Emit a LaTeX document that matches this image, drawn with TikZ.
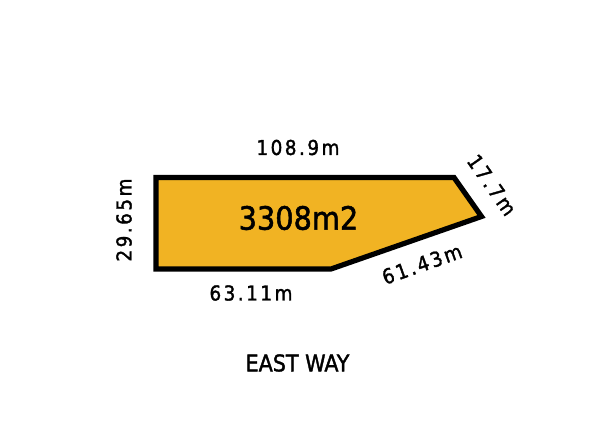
\documentclass[tikz,border=0pt]{standalone}
\usepackage{fontspec}
\setmainfont[FakeBold=1.6]{DejaVu Sans Condensed}
\newfontfamily\dimfont[LetterSpace=12,FakeBold=1.6]{DejaVu Sans Condensed}
\definecolor{lotfill}{RGB}{241,179,35}
\begin{document}
\begin{tikzpicture}[x=1pt,y=-1pt,
  dimlabel/.style={font=\dimfont\fontsize{20.5}{20.5}\selectfont, inner sep=0pt, anchor=center},
  lot/.style={draw=black, line width=5.2pt, fill=lotfill, line join=miter}]
\useasboundingbox (0,0) rectangle (600,424);
\coordinate (A) at (156,177.5);
\coordinate (B) at (454,177.5);
\coordinate (C) at (481.5,216.5);
\coordinate (D) at (331,269);
\coordinate (E) at (156,269);
\draw[lot] (A) -- (B) -- (C) -- (D) -- (E) -- cycle;
\node[font=\fontsize{32}{32}\selectfont, inner sep=0pt] (area) at (298.5,218) {3308m2};
\node[dimlabel] (top) at (298,147.5) {108.9m};
\node[dimlabel, rotate=90] (left) at (124,220) {29.65m};
\node[dimlabel] (bottom) at (251,293) {63.11m};
\node[dimlabel, rotate=19.5] (diag) at (422,264) {61.43m};
\node[dimlabel, rotate=-55] (short) at (492,185) {17.7m};
\node[font=\fontsize{23}{23}\selectfont, inner sep=0pt] (road) at (297.5,363) {EAST WAY};
\end{tikzpicture}
\end{document}
